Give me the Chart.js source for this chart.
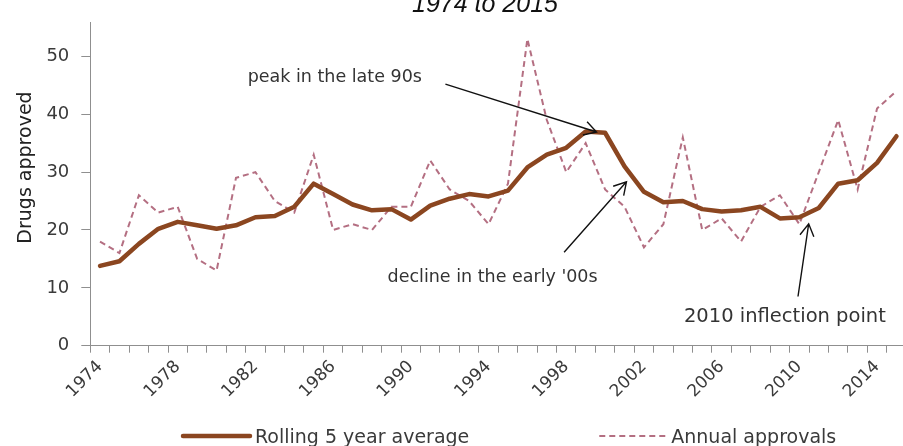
<!DOCTYPE html>
<html>
<head>
<meta charset="utf-8">
<script src="https://cdn.jsdelivr.net/npm/chart.js@4.4.1/dist/chart.umd.min.js"></script>
<style>
  html, body { margin: 0; padding: 0; overflow: hidden; background: #ffffff; width: 903px; height: 446px; }
  #wrap { position: absolute; left: 0; top: 0; width: 915px; height: 446px; }
  canvas { display: block; }
</style>
</head>
<body>
<div id="wrap"><canvas id="c" width="915" height="446"></canvas></div>
<script>
// Years on the category axis
const years = ['1974','1975','1976','1977','1978','1979','1980','1981','1982','1983',
               '1984','1985','1986','1987','1988','1989','1990','1991','1992','1993',
               '1994','1995','1996','1997','1998','1999','2000','2001','2002','2003',
               '2004','2005','2006','2007','2008','2009','2010','2011','2012','2013',
               '2014','2015'];

// Years that carry a tick label
const tickYears = ['1974','1978','1982','1986','1990','1994','1998','2002','2006','2010','2014'];

// Trailing five-year average of approvals
const rollingAverage = [13.8, 14.6, 17.6, 20.2, 21.4, 20.8, 20.2, 20.8, 22.2, 22.4,
                        24.0, 28.0, 26.2, 24.4, 23.4, 23.6, 21.8, 24.2, 25.4, 26.2,
                        25.8, 26.8, 30.8, 33.0, 34.2, 37.0, 36.8, 31.0, 26.6, 24.8,
                        25.0, 23.6, 23.2, 23.4, 24.0, 22.0, 22.2, 23.8, 28.0, 28.6,
                        31.6, 36.2];

// New drugs approved each year
const annualApprovals = [18, 16, 26, 23, 24, 15, 13, 29, 30, 25,
                         23, 33, 20, 21, 20, 24, 24, 32, 27, 25,
                         21, 28, 53, 39, 30, 35, 27, 24, 17, 21,
                         36, 20, 22, 18, 24, 26, 21, 30, 39, 27,
                         41, 44];

// Y-axis tick values
const yTicks = [0, 10, 20, 30, 40, 50];

const FONT = '"DejaVu Sans", "Open Sans", sans-serif';
const TEXT = '#3a3a3a';
const AXIS = '#8f8f8f';

// Callouts: text anchor and arrow ends, in (category index, value) units
const callouts = [
  { text: 'peak in the late 90s',        size: 17.5, at: [7.60, 45.53],  from: [17.78, 45.19], to: [25.56, 36.93] },
  { text: "decline in the early '00s",   size: 17.5, at: [14.80, 11.01], from: [23.89, 16.15], to: [27.10, 28.32] },
  { text: '2010 inflection point',       size: 19.5, at: [30.06, 4.02],  from: [35.93, 8.50],  to: [36.48, 21.06] }
];

function drawArrow(ctx, x1, y1, x2, y2) {
  const ang = Math.atan2(y2 - y1, x2 - x1);
  const len = 14, spread = Math.PI / 6;
  ctx.beginPath();
  ctx.moveTo(x1, y1);
  ctx.lineTo(x2, y2);
  ctx.moveTo(x2 - len * Math.cos(ang - spread), y2 - len * Math.sin(ang - spread));
  ctx.lineTo(x2, y2);
  ctx.lineTo(x2 - len * Math.cos(ang + spread), y2 - len * Math.sin(ang + spread));
  ctx.stroke();
}

const decorations = {
  id: 'decorations',
  afterDraw(chart) {
    const { ctx, scales: { x, y } } = chart;
    ctx.save();

    // Subtitle
    ctx.fillStyle = '#111';
    ctx.font = 'italic 25px "Liberation Sans", Arial, sans-serif';
    ctx.textAlign = 'center';
    ctx.textBaseline = 'alphabetic';
    ctx.fillText('1974 to 2015', 485, 12);

    // Y-axis title
    ctx.save();
    ctx.translate(26, 167.5);
    ctx.rotate(-Math.PI / 2);
    ctx.font = '19px ' + FONT;
    ctx.fillStyle = '#222';
    ctx.textAlign = 'center';
    ctx.textBaseline = 'middle';
    ctx.fillText('Drugs approved', 0, 0);
    ctx.restore();

    // Callouts with arrows
    ctx.strokeStyle = '#111';
    ctx.lineWidth = 1.4;
    ctx.textAlign = 'left';
    ctx.textBaseline = 'alphabetic';
    callouts.forEach(c => {
      ctx.font = c.size + 'px ' + FONT;
      ctx.fillStyle = '#333';
      ctx.fillText(c.text, x.getPixelForValue(c.at[0]), y.getPixelForValue(c.at[1]));
      drawArrow(ctx,
        x.getPixelForValue(c.from[0]), y.getPixelForValue(c.from[1]),
        x.getPixelForValue(c.to[0]), y.getPixelForValue(c.to[1]));
    });

    // Legend
    ctx.font = '19px ' + FONT;
    let lx = 183;
    const ly = 436, sample = 67, gap = 5, itemGap = 130;
    chart.data.datasets.forEach(ds => {
      ctx.save();
      ctx.strokeStyle = ds.borderColor;
      ctx.lineWidth = ds.borderWidth;
      ctx.setLineDash(ds.borderDash || []);
      ctx.lineCap = ds.borderDash ? 'butt' : 'round';
      ctx.beginPath();
      ctx.moveTo(lx, ly);
      ctx.lineTo(lx + sample, ly);
      ctx.stroke();
      ctx.restore();
      ctx.fillStyle = TEXT;
      ctx.fillText(ds.label, lx + sample + gap, ly + 6.5);
      lx += sample + gap + ctx.measureText(ds.label).width + itemGap;
    });

    ctx.restore();
  }
};

new Chart(document.getElementById('c'), {
  type: 'line',
  data: {
    labels: years,
    datasets: [
      {
        label: 'Rolling 5 year average',
        data: rollingAverage,
        borderColor: '#8b4620',
        borderWidth: 4.5,
        pointRadius: 0,
        tension: 0,
        borderJoinStyle: 'round',
        borderCapStyle: 'round'
      },
      {
        label: 'Annual approvals',
        data: annualApprovals,
        borderColor: '#b46f82',
        borderWidth: 2,
        borderDash: [6, 4],
        pointRadius: 0,
        tension: 0
      }
    ]
  },
  options: {
    responsive: false,
    animation: false,
    devicePixelRatio: 1,
    layout: { padding: { left: 0, right: 7.4, top: 12.7, bottom: 0 } },
    plugins: {
      legend: { display: false },
      title: { display: false },
      tooltip: { enabled: false }
    },
    scales: {
      x: {
        offset: true,
        grid: { offset: true, drawOnChartArea: false, drawTicks: true, tickLength: 7, color: AXIS },
        border: { display: true, color: AXIS, width: 1 },
        ticks: {
          autoSkip: false,
          maxRotation: 45,
          minRotation: 45,
          padding: 4,
          color: TEXT,
          font: { family: FONT, size: 17 },
          callback: function (v) {
            const label = this.getLabelForValue(v);
            return tickYears.includes(label) ? label : '';
          }
        },
        afterFit: s => { s.height = 100.3; }
      },
      y: {
        min: 0,
        max: 55.8,
        ticks: { stepSize: 10, padding: 12, color: TEXT, font: { family: FONT, size: 18 } },
        afterBuildTicks: s => { s.ticks = yTicks.map(v => ({ value: v })); },
        grid: { drawOnChartArea: false, drawTicks: true, tickLength: 9, color: AXIS },
        border: { display: true, color: AXIS, width: 1 },
        afterFit: s => { s.width = 90.3; }
      }
    }
  },
  plugins: [decorations]
});
</script>
</body>
</html>
